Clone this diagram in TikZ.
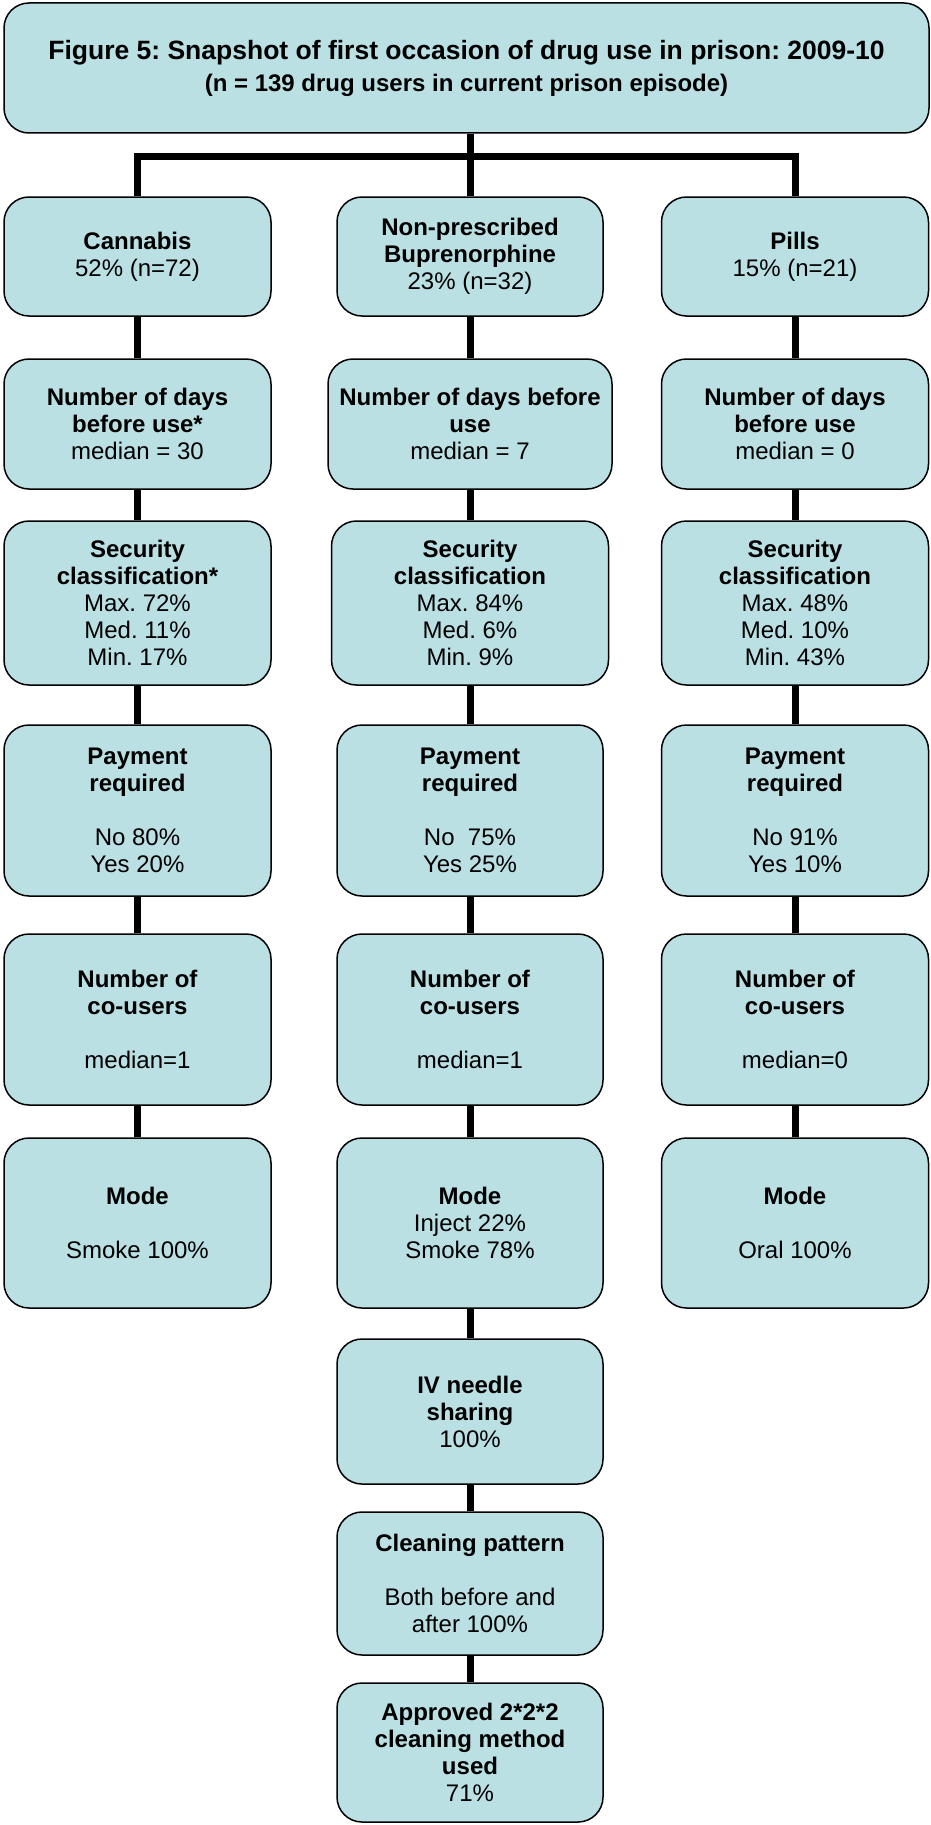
\documentclass[tikz,border=0pt]{standalone}
\usepackage{fontspec}
\setmainfont{Liberation Sans}
\usepackage{tikz}
\usetikzlibrary{calc,positioning}
\definecolor{snapblue}{HTML}{BAE0E4}
\frenchspacing

\tikzset{
  snapbox/.style={draw=black, line width=1.5pt, fill=snapblue,
    rounded corners=25pt, inner sep=0pt, align=center,
    font=\fontsize{24}{27}\selectfont},
  sidecol/.style={snapbox, minimum width=267pt},
  midcol/.style={snapbox, minimum width=266pt},
  link/.style={draw=black, line width=7pt, line join=miter},
}

\begin{document}
\begin{tikzpicture}[x=1pt, y=-1pt]
  \useasboundingbox (0,0) rectangle (931,1825);

  % heading
  \node[snapbox, minimum width=925pt, minimum height=130pt] (title) at (466.5,68) {%
    {\fontsize{26.5}{30}\selectfont\bfseries Figure 5: Snapshot of first occasion of drug use in prison: 2009-10}\\[5pt]
    \textbf{(n = 139 drug users in current prison episode)}};

  % cannabis
  \node[sidecol, minimum height=119pt] (can) at (137.5,256.5) {\textbf{Cannabis}\\52\% (n=72)};
  \node[sidecol, minimum height=130pt] (candays) at (137.5,424) {\textbf{Number of days}\\\textbf{before use*}\\median = 30};
  \node[sidecol, minimum height=164pt] (cansec) at (137.5,603) {\textbf{Security}\\\textbf{classification*}\\Max. 72\%\\Med. 11\%\\Min. 17\%};
  \node[sidecol, minimum height=171pt] (canpay) at (137.5,810.5) {\textbf{Payment}\\\textbf{required}\\[27pt]No 80\%\\Yes 20\%};
  \node[sidecol, minimum height=171pt] (canco) at (137.5,1019.5) {\textbf{Number of}\\\textbf{co-users}\\[27pt]median=1};
  \node[sidecol, minimum height=170pt] (canmode) at (137.5,1223) {\textbf{Mode}\\[27pt]Smoke 100\%};

  % buprenorphine
  \node[midcol, minimum height=119pt] (bup) at (470,256.5) {\textbf{Non-prescribed}\\\textbf{Buprenorphine}\\23\% (n=32)};
  \node[snapbox, minimum width=284pt, minimum height=130pt] (bupdays) at (470,424) {\textbf{Number of days before}\\\textbf{use}\\median = 7};
  \node[snapbox, minimum width=277pt, minimum height=164pt] (bupsec) at (470,603) {\textbf{Security}\\\textbf{classification}\\Max. 84\%\\Med. 6\%\\Min. 9\%};
  \node[midcol, minimum height=171pt] (buppay) at (470,810.5) {\textbf{Payment}\\\textbf{required}\\[27pt]No\ \ 75\%\\Yes 25\%};
  \node[midcol, minimum height=171pt] (bupco) at (470,1019.5) {\textbf{Number of}\\\textbf{co-users}\\[27pt]median=1};
  \node[midcol, minimum height=170pt] (bupmode) at (470,1223) {\textbf{Mode}\\Inject 22\%\\Smoke 78\%};
  \node[midcol, minimum height=145pt] (bupiv) at (470,1411.5) {\textbf{IV needle}\\\textbf{sharing}\\100\%};
  \node[midcol, minimum height=143pt] (bupclean) at (470,1583.5) {\textbf{Cleaning pattern}\\[27pt]Both before and\\after 100\%};
  \node[midcol, minimum height=139pt] (bupappr) at (470,1752.5) {\textbf{Approved 2*2*2}\\\textbf{cleaning method}\\\textbf{used}\\71\%};

  % pills
  \node[sidecol, minimum height=119pt] (pil) at (795,256.5) {\textbf{Pills}\\15\% (n=21)};
  \node[sidecol, minimum height=130pt] (pildays) at (795,424) {\textbf{Number of days}\\\textbf{before use}\\median = 0};
  \node[sidecol, minimum height=164pt] (pilsec) at (795,603) {\textbf{Security}\\\textbf{classification}\\Max. 48\%\\Med. 10\%\\Min. 43\%};
  \node[sidecol, minimum height=171pt] (pilpay) at (795,810.5) {\textbf{Payment}\\\textbf{required}\\[27pt]No 91\%\\Yes 10\%};
  \node[sidecol, minimum height=171pt] (pilco) at (795,1019.5) {\textbf{Number of}\\\textbf{co-users}\\[27pt]median=0};
  \node[sidecol, minimum height=170pt] (pilmode) at (795,1223) {\textbf{Mode}\\[27pt]Oral 100\%};

  % branching bar
  \coordinate (barL) at (can.north |- 0,156);
  \coordinate (barR) at (pil.north |- 0,156);
  \draw[link] (title.south -| bup.north) -- (bup.north);
  \draw[link] (can.north) -- (barL) -- (barR) -- (pil.north);

  % column links
  \foreach \a/\b in {can/candays, candays/cansec, cansec/canpay, canpay/canco, canco/canmode,
      bup/bupdays, bupdays/bupsec, bupsec/buppay, buppay/bupco, bupco/bupmode,
      bupmode/bupiv, bupiv/bupclean, bupclean/bupappr,
      pil/pildays, pildays/pilsec, pilsec/pilpay, pilpay/pilco, pilco/pilmode}
    \draw[link] (\a.south) -- (\b.north);
\end{tikzpicture}
\end{document}
